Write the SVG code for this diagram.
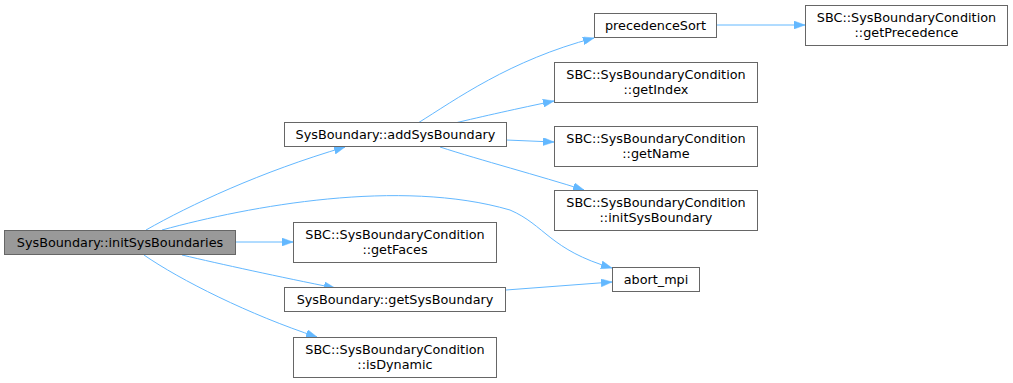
<svg xmlns="http://www.w3.org/2000/svg" width="1013" height="383" viewBox="0 0 1013 383">
<style>
.n rect{fill:#fff;stroke:#666;stroke-width:1}
.n.cur rect{fill:#999}
.n text{font-family:"DejaVu Sans",sans-serif;font-size:12.8px;fill:#000;text-anchor:middle}
.e path{fill:none;stroke:#63b8ff;stroke-width:1}
</style>
<defs>
<marker id="ah" markerWidth="11" markerHeight="8" refX="11" refY="4" orient="auto" markerUnits="userSpaceOnUse">
<path d="M0,0 L11,4 L0,8 z" fill="#63b8ff" stroke="#63b8ff" stroke-width="0.5"/>
</marker>
</defs>
<g id="edges" class="e">
<path marker-end="url(#ah)" d="M146,230 C190,205 260,172 345,147"/>
<path marker-end="url(#ah)" d="M162,230 C250,206 400,178 510,210 C545,225 550,250 612,268"/>
<path marker-end="url(#ah)" d="M236,242 L293,242"/>
<path marker-end="url(#ah)" d="M182,255 C220,264 280,277 335,288"/>
<path marker-end="url(#ah)" d="M144,255 C180,280 250,315 317,337"/>
<path marker-end="url(#ah)" d="M418,123 C455,100 510,60 594,38"/>
<path marker-end="url(#ah)" d="M455,123 C480,117 520,108 554,101"/>
<path marker-end="url(#ah)" d="M506,140 L554,142"/>
<path marker-end="url(#ah)" d="M440,147 C480,160 540,176 584,190"/>
<path marker-end="url(#ah)" d="M717,25 L805,25"/>
<path marker-end="url(#ah)" d="M506,290 L612,282"/>
</g>
<g id="initSysBoundaries" class="n cur"><rect x="4.5" y="230.5" width="231" height="24"/><text x="120" y="247">SysBoundary::initSysBoundaries</text></g>
<g id="addSysBoundary" class="n"><rect x="284.5" y="122.5" width="222" height="24"/><text x="395.5" y="139">SysBoundary::addSysBoundary</text></g>
<g id="getFaces" class="n"><rect x="293.5" y="222.5" width="203" height="40"/><text x="395" y="239">SBC::SysBoundaryCondition</text><text x="395" y="254">::getFaces</text></g>
<g id="getSysBoundary" class="n"><rect x="284.5" y="287.5" width="221" height="24"/><text x="395" y="304">SysBoundary::getSysBoundary</text></g>
<g id="isDynamic" class="n"><rect x="293.5" y="337.5" width="203" height="40"/><text x="395" y="354">SBC::SysBoundaryCondition</text><text x="395" y="369">::isDynamic</text></g>
<g id="precedenceSort" class="n"><rect x="594.5" y="13.5" width="122" height="24"/><text x="655.5" y="30">precedenceSort</text></g>
<g id="getIndex" class="n"><rect x="554.5" y="62.5" width="203" height="40"/><text x="656" y="79">SBC::SysBoundaryCondition</text><text x="656" y="94">::getIndex</text></g>
<g id="getName" class="n"><rect x="554.5" y="126.5" width="203" height="40"/><text x="656" y="143">SBC::SysBoundaryCondition</text><text x="656" y="158">::getName</text></g>
<g id="initSysBoundary" class="n"><rect x="554.5" y="190.5" width="203" height="40"/><text x="656" y="207">SBC::SysBoundaryCondition</text><text x="656" y="222">::initSysBoundary</text></g>
<g id="abort_mpi" class="n"><rect x="612.5" y="267.5" width="87" height="24"/><text x="656" y="284">abort_mpi</text></g>
<g id="getPrecedence" class="n"><rect x="805.5" y="5.5" width="202" height="40"/><text x="906.5" y="22">SBC::SysBoundaryCondition</text><text x="906.5" y="37">::getPrecedence</text></g>
</svg>
